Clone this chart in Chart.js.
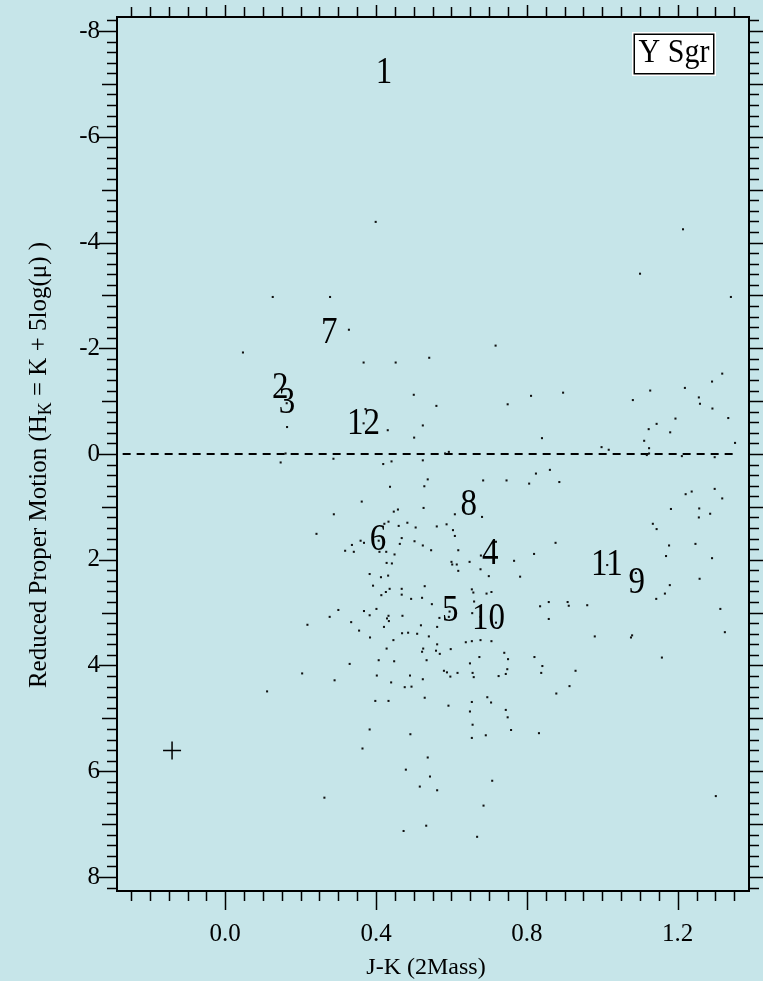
<!DOCTYPE html>
<html>
<head>
<meta charset="utf-8">
<script src="https://cdn.jsdelivr.net/npm/chart.js@4.4.0/dist/chart.umd.min.js"></script>
<style>
  html, body { margin: 0; padding: 0; background: #c6e5e9; }
  #wrap { width: 763px; height: 981px; }
</style>
</head>
<body>
<div id="wrap"><canvas id="cmd" width="763" height="981"></canvas></div>
<script>
// Field stars: J-K colour (2MASS) and reduced proper motion H_K
const starJK = [
  0.399, 1.214, 0.126, 0.278, 0.328, 0.047, 0.367, 0.452, 0.541, 0.500,
  0.163, 0.524, 0.164, 0.372, 0.367, 0.377, 0.431, 0.501, 0.160, 0.147,
  0.287, 0.419, 0.441, 0.524, 0.437, 0.528, 0.537, 1.100, 1.341, 0.717,
  0.560, 0.749, 0.811, 0.896, 0.840, 1.081, 1.127, 1.219, 1.256, 1.259,
  1.291, 1.318, 1.292, 1.334, 1.194, 1.144, 1.123, 1.180, 1.111, 1.124,
  1.124, 1.118, 0.998, 1.017, 1.352, 1.211, 1.298, 0.583, 0.593, 0.684,
  0.746, 0.824, 0.861, 0.806, 0.886, 1.298, 0.362, 0.288, 0.447, 0.458,
  0.526, 0.609, 0.681, 0.433, 0.422, 0.460, 0.483, 0.505, 0.561, 0.587,
  0.604, 0.609, 0.468, 0.463, 0.502, 0.524, 0.546, 0.618, 0.359, 0.368,
  0.336, 0.318, 0.341, 0.407, 0.409, 0.427, 0.449, 0.428, 0.442, 0.648,
  0.600, 0.602, 0.614, 0.618, 0.678, 0.718, 0.766, 0.819, 0.876, 0.677,
  0.699, 0.782, 0.383, 0.413, 0.432, 0.392, 0.529, 0.436, 0.426, 0.468,
  0.468, 0.414, 0.493, 0.522, 0.548, 0.654, 0.658, 0.693, 0.706, 0.660,
  0.655, 0.677, 0.718, 0.835, 0.858, 0.908, 0.911, 0.858, 0.595, 0.593,
  0.568, 0.300, 0.277, 0.368, 0.401, 0.383, 0.433, 0.429, 0.434, 0.470,
  0.334, 0.355, 0.421, 0.519, 0.562, 0.384, 0.469, 0.485, 0.509, 0.540,
  0.446, 0.562, 0.428, 0.525, 0.598, 0.638, 0.654, 0.677, 0.706, 0.522,
  0.559, 0.569, 0.330, 0.407, 0.448, 0.534, 0.674, 0.649, 0.740, 0.750,
  0.820, 0.841, 0.838, 0.913, 0.878, 0.290, 0.402, 0.440, 0.490, 0.476,
  0.494, 0.524, 0.580, 0.588, 0.616, 0.597, 0.656, 0.659, 0.725, 0.744,
  0.748, 0.398, 0.433, 0.529, 0.592, 0.654, 0.695, 0.705, 0.649, 0.744,
  0.749, 0.656, 0.654, 0.691, 0.758, 0.832, 0.383, 0.491, 0.364, 0.537,
  0.479, 0.543, 0.516, 0.562, 0.708, 0.685, 0.263, 0.533, 0.473, 0.668,
  0.242, 0.218, 0.204, 0.111, 1.221, 1.237, 1.318, 1.182, 1.257, 1.256,
  1.286, 1.134, 1.144, 1.177, 1.247, 1.169, 1.291, 1.258, 1.179, 1.166,
  1.143, 1.313, 1.325, 1.158, 0.980, 1.079, 1.076, 1.089, 1.013, 0.960,
  0.929, 1.301
];
const starHK = [
  -4.39, -4.25, -2.97, -2.97, -2.35, -1.92, -1.73, -1.73, -1.82, -1.12,
  -0.96, -0.54, -0.51, -0.85, -0.58, -0.40, -0.45, -0.31, -0.01, 0.16,
  0.09, 0.19, 0.14, 0.12, 0.62, 0.61, 0.48, -3.41, -2.97, -2.05,
  -0.91, -0.94, -1.10, -1.16, -0.30, -1.02, -1.20, -1.25, -1.07, -0.95,
  -1.37, -1.52, -0.86, -0.68, -0.67, -0.57, -0.47, -0.41, -0.25, -0.11,
  -0.01, 0.02, -0.13, -0.08, -0.21, 0.04, 0.06, -0.01, -0.04, 0.50,
  0.50, 0.37, 0.30, 0.56, 0.53, 0.66, 0.90, 1.14, 1.09, 1.05,
  1.02, 1.14, 1.19, 1.28, 1.32, 1.36, 1.30, 1.39, 1.37, 1.33,
  1.44, 1.55, 1.59, 1.70, 1.65, 1.73, 1.82, 1.82, 1.64, 1.68,
  1.72, 1.83, 1.85, 1.64, 1.85, 1.85, 1.90, 2.06, 2.07, 2.04,
  2.04, 2.09, 2.09, 2.21, 1.92, 1.66, 2.02, 1.89, 1.68, 2.18,
  2.31, 2.32, 2.27, 2.33, 2.30, 2.49, 2.50, 2.55, 2.61, 2.55,
  2.66, 2.67, 2.74, 2.72, 2.84, 2.56, 2.62, 2.64, 2.61, 2.79,
  3.01, 3.08, 3.19, 2.88, 2.80, 2.80, 2.87, 3.12, 2.98, 3.08,
  3.10, 2.95, 3.08, 2.97, 2.93, 3.05, 3.06, 3.11, 3.16, 3.06,
  3.18, 3.34, 3.27, 3.24, 3.27, 3.47, 3.39, 3.38, 3.40, 3.45,
  3.52, 3.60, 3.68, 3.68, 3.69, 3.56, 3.54, 3.52, 3.54, 3.74,
  3.72, 3.78, 3.97, 3.90, 3.92, 3.90, 3.84, 3.96, 3.76, 3.88,
  3.84, 4.01, 4.14, 4.39, 4.53, 4.28, 4.19, 4.32, 4.19, 4.41,
  4.40, 4.26, 4.10, 4.13, 4.14, 4.21, 4.14, 4.22, 4.20, 4.16,
  4.07, 4.67, 4.67, 4.61, 4.76, 4.69, 4.60, 4.70, 4.87, 4.84,
  4.98, 5.12, 5.37, 5.32, 5.22, 5.28, 5.21, 5.30, 5.57, 5.74,
  5.97, 6.10, 6.29, 6.36, 6.18, 6.65, 6.50, 7.03, 7.13, 7.24,
  1.51, 3.23, 4.15, 4.49, 0.76, 0.71, 0.84, 1.04, 1.03, 1.20,
  1.13, 1.32, 1.42, 1.73, 1.70, 1.93, 1.97, 2.36, 2.48, 2.64,
  2.74, 2.93, 3.37, 3.85, 3.45, 3.43, 3.47, 2.25, 2.10, 2.86,
  4.10, 6.47
];

// Numbered program stars
const idText = ['1', '2', '3', '7', '12', '6', '8', '4', '5', '10', '11', '9'];
const idJK   = [0.421, 0.146, 0.164, 0.276, 0.367, 0.405, 0.646, 0.703, 0.597, 0.698, 1.012, 1.091];
const idHK   = [-7.26, -1.29, -1.01, -2.33, -0.62, 1.58, 0.91, 1.85, 2.92, 3.07, 2.05, 2.40];

// Typical error cross
const errJK = [-0.141];
const errHK = [5.61];

// Reference line H_K = 0
const refJK = [-0.272, 1.36];
const refHK = [0, 0];

// Axis tick labels
const xTickValues = [0.0, 0.4, 0.8, 1.2];
const yTickValues = [-8, -6, -4, -2, 0, 2, 4, 6, 8];

const fieldName = 'Y Sgr';
const xTitle = 'J-K (2Mass)';

const SERIF = '"Liberation Serif", "Times New Roman", serif';
const BG = '#c6e5e9';

const pts = (xs, ys) => xs.map((v, i) => ({ x: v, y: ys[i] }));

const decorations = {
  id: 'decorations',
  beforeDraw(chart) {
    const ctx = chart.ctx;
    ctx.save();
    ctx.fillStyle = BG;
    ctx.fillRect(0, 0, chart.width, chart.height);
    ctx.restore();
  },
  afterDatasetsDraw(chart) {
    const ctx = chart.ctx;
    const xs = chart.scales.x, ys = chart.scales.y;
    // numbered stars (slightly tall serif digits)
    const fs = 33;
    idText.forEach((t, i) => {
      const px = xs.getPixelForValue(idJK[i]);
      const py = ys.getPixelForValue(idHK[i]);
      ctx.save();
      ctx.fillStyle = '#000';
      ctx.font = fs + 'px ' + SERIF;
      ctx.textAlign = 'center';
      ctx.textBaseline = 'alphabetic';
      ctx.translate(px, py);
      ctx.scale(1, 1.12);
      ctx.fillText(t, 0, 0.338 * fs);
      ctx.restore();
    });
  },
  afterDraw(chart) {
    const ctx = chart.ctx;
    const a = chart.chartArea;
    const xs = chart.scales.x, ys = chart.scales.y;
    ctx.save();
    ctx.strokeStyle = '#000';
    ctx.lineWidth = 2;
    ctx.strokeRect(a.left, a.top, a.right - a.left, a.bottom - a.top);

    // x ticks: minor every 0.05, major every 0.4
    ctx.lineWidth = 1.5;
    ctx.beginPath();
    for (let i = Math.ceil(xs.min * 20); i <= Math.floor(xs.max * 20); i++) {
      const px = Math.round(xs.getPixelForValue(i / 20)) + 0.5;
      const major = i % 8 === 0;
      ctx.moveTo(px, a.bottom); ctx.lineTo(px, a.bottom + (major ? 19 : 10));
      ctx.moveTo(px, a.top); ctx.lineTo(px, a.top - (major ? 12 : 10));
    }
    // y ticks: minor every 0.2, medium at odd integers, major every 2
    for (let j = Math.ceil(ys.min * 5); j <= Math.floor(ys.max * 5); j++) {
      const py = Math.round(ys.getPixelForValue(j / 5)) + 0.5;
      const major = j % 10 === 0, mid = j % 5 === 0;
      ctx.moveTo(a.left, py); ctx.lineTo(a.left - (major ? 18 : mid ? 15 : 10), py);
      ctx.moveTo(a.right, py); ctx.lineTo(a.right + (mid ? 14 : 10), py);
    }
    ctx.stroke();

    // field label box
    const bx = a.right - 117, by = a.top + 15, bw = 84, bh = 44;
    ctx.fillStyle = '#fff';
    ctx.fillRect(bx, by, bw, bh);
    ctx.lineWidth = 1.5;
    ctx.strokeRect(bx + 2.25, by + 2.25, bw - 4.5, bh - 4.5);
    ctx.save();
    ctx.fillStyle = '#000';
    ctx.font = '30px ' + SERIF;
    ctx.textAlign = 'center';
    ctx.textBaseline = 'alphabetic';
    ctx.translate(bx + bw / 2, by + 30);
    ctx.scale(1, 1.09);
    ctx.fillText(fieldName, 0, 0);
    ctx.restore();

    // axis titles
    ctx.fillStyle = '#000';
    ctx.textAlign = 'center';
    ctx.textBaseline = 'alphabetic';
    ctx.font = '24px ' + SERIF;
    ctx.fillText(xTitle, 426, 974);

    const fs = 25, sub = 18;
    const p1 = 'Reduced Proper Motion (H', p2 = 'K', p3 = ' = K + 5log(\u03bc) )';
    ctx.font = fs + 'px ' + SERIF;
    const w1 = ctx.measureText(p1).width, w3 = ctx.measureText(p3).width;
    ctx.font = sub + 'px ' + SERIF;
    const w2 = ctx.measureText(p2).width;
    const total = w1 + w2 + w3;
    ctx.translate(46, 465);
    ctx.rotate(-Math.PI / 2);
    ctx.textAlign = 'left';
    let cx = -total / 2;
    ctx.font = fs + 'px ' + SERIF;
    ctx.fillText(p1, cx, 0); cx += w1;
    ctx.font = sub + 'px ' + SERIF;
    ctx.fillText(p2, cx, 5); cx += w2;
    ctx.font = fs + 'px ' + SERIF;
    ctx.fillText(p3, cx, 0);
    ctx.restore();
  }
};

new Chart(document.getElementById('cmd'), {
  type: 'scatter',
  data: {
    datasets: [
      {
        data: pts(starJK, starHK),
        pointStyle: 'rect',
        pointRadius: 1.45,
        backgroundColor: '#111',
        borderWidth: 0
      },
      {
        type: 'line',
        data: pts(refJK, refHK),
        borderColor: '#000',
        borderWidth: 2,
        borderDash: [8, 6],
        pointRadius: 0,
        fill: false
      },
      {
        data: pts(errJK, errHK),
        pointStyle: 'cross',
        pointRadius: 9,
        borderColor: '#000',
        borderWidth: 1.5
      }
    ]
  },
  options: {
    responsive: false,
    devicePixelRatio: 1,
    animation: false,
    events: [],
    layout: { padding: { top: 17, right: 14, left: 0, bottom: 0 } },
    plugins: { legend: { display: false }, tooltip: { enabled: false } },
    scales: {
      x: {
        type: 'linear',
        min: -0.287, max: 1.389,
        grid: { display: false, drawTicks: false },
        border: { display: false },
        afterBuildTicks: s => { s.ticks = xTickValues.map(v => ({ value: v })); },
        afterFit: s => { s.height = 90; s.paddingLeft = 0; s.paddingRight = 0; },
        ticks: {
          padding: 28,
          color: '#000',
          font: { family: SERIF, size: 25 },
          callback: v => Number(v).toFixed(1)
        }
      },
      y: {
        type: 'linear',
        reverse: true,
        min: -8.265, max: 8.265,
        grid: { display: false, drawTicks: false },
        border: { display: false },
        afterBuildTicks: s => { s.ticks = yTickValues.map(v => ({ value: v })); },
        afterFit: s => { s.width = 117; s.paddingTop = 0; s.paddingBottom = 0; },
        ticks: {
          padding: 17,
          color: '#000',
          font: { family: SERIF, size: 25 },
          callback: v => String(v)
        }
      }
    }
  },
  plugins: [decorations]
});
</script>
</body>
</html>
